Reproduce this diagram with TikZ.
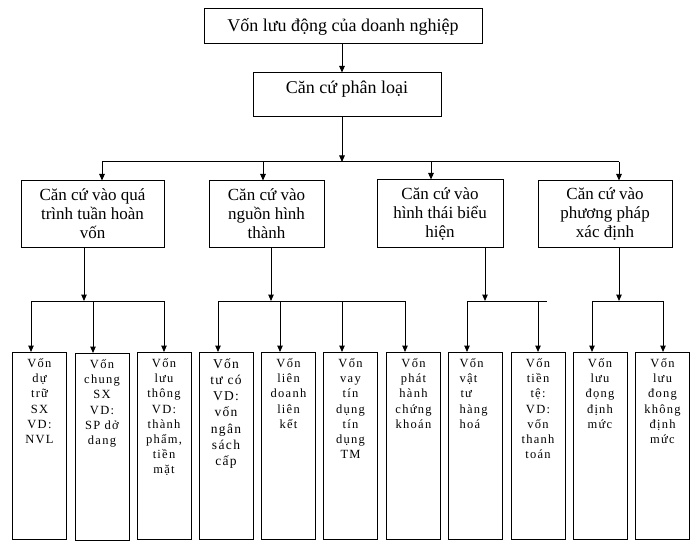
\documentclass[tikz,border=0pt]{standalone}
\usepackage{fontspec}
\setmainfont{Liberation Serif}
\newfontfamily\itemfont[LetterSpace=10]{Liberation Serif}
\usetikzlibrary{arrows.meta}
\newcommand{\vonbox}[2][\centering]{\parbox[t][181pt][t]{48pt}{\vspace*{3pt}\itemfont\fontsize{12.5}{15.2}\selectfont #1#2}}

\begin{document}
\begin{tikzpicture}[x=1pt, y=-1pt, >={Triangle[length=6.5pt,width=5.5pt]}, line width=1pt,
    mainbox/.style={draw, inner sep=0pt, font=\fontsize{18}{20}\selectfont},
    critbox/.style={draw, align=center, inner sep=0pt, font=\fontsize{17}{19}\selectfont},
    itembox/.style={draw, anchor=north, inner sep=3pt}]
    \useasboundingbox (0,0) rectangle (700,545);
    \node[mainbox, minimum width=278pt, minimum height=35pt] (von) at (343,26.5) {Vốn lưu động của doanh nghiệp};
    \node[mainbox, minimum width=188pt, minimum height=44pt, text height=12pt, text depth=15pt] (cancu) at (347,95) {Căn cứ phân loại};
    \draw[->] (von.south -| 342,0) -- (342,0 |- cancu.north);
    \coordinate (hub) at (342,162);
    \coordinate (jA) at (102,162);
    \coordinate (jB) at (263,162);
    \coordinate (jC) at (431,162);
    \coordinate (jD) at (619,162);
    \draw[->] (cancu.south -| hub) -- (hub);
    \draw (jA) -- (jD);

    \node[critbox, minimum width=143pt, minimum height=66pt] (quatrinh) at (92.5,214) {Căn cứ vào quá\\trình tuần hoàn\\vốn};
    \node[critbox, minimum width=115pt, minimum height=66pt] (nguon) at (266.5,214) {Căn cứ vào\\nguồn hình\\thành};
    \node[critbox, minimum width=126pt, minimum height=67pt] (hinhthai) at (440,213.5) {Căn cứ vào\\hình thái biểu\\hiện};
    \node[critbox, minimum width=134pt, minimum height=66pt] (phuongphap) at (605,214) {Căn cứ vào\\phương pháp\\xác định};
    \draw[->] (jA) -- (jA |- quatrinh.north);
    \draw[->] (jB) -- (jB |- nguon.north);
    \draw[->] (jC) -- (jC |- hinhthai.north);
    \draw[->] (jD) -- (jD |- phuongphap.north);

    \node[itembox] (dutru) at (39.5,352) {\vonbox{Vốn\\dự\\trữ\\SX\\VD:\\NVL}};
    \node[itembox] (sanxuat) at (102,353) {\vonbox{Vốn\\chung\\SX\\VD:\\SP dở\\dang}};
    \node[itembox] (luuthong) at (164,352) {\vonbox{Vốn\\lưu\\thông\\VD:\\thành\\phẩm,\\tiền\\mặt}};
    \node[itembox] (tuco) at (226,352) {\vonbox[\centering\fontsize{13.5}{16.2}\selectfont]{Vốn\\tư có\\VD:\\vốn\\ngân\\sách\\cấp}};
    \node[itembox] (liendoanh) at (288.5,352) {\vonbox{Vốn\\liên\\doanh\\liên\\kết}};
    \node[itembox] (vay) at (350.5,352) {\vonbox{Vốn\\vay\\tín\\dụng\\tín\\dụng\\TM}};
    \node[itembox] (phathanh) at (413.5,352) {\vonbox{Vốn\\phát\\hành\\chứng\\khoán}};
    \node[itembox] (vattu) at (475.5,352) {\vonbox[\raggedright\hspace*{8pt}]{Vốn\\\hspace*{8pt}vật\\\hspace*{9pt}tư\\\hspace*{8pt}hàng\\\hspace*{8pt}hoá}};
    \node[itembox] (tiente) at (538,352) {\vonbox{Vốn\\tiền\\tệ:\\VD:\\vốn\\thanh\\toán}};
    \node[itembox] (dinhmuc) at (600,352) {\vonbox{Vốn\\lưu\\đọng\\định\\mức}};
    \node[itembox] (khongdm) at (662.5,352) {\vonbox{Vốn\\lưu\\đong\\không\\định\\mức}};

    \coordinate (gA) at (84,301);
    \coordinate (gB) at (271,301);
    \coordinate (gC) at (485,301);
    \coordinate (gD) at (619,301);
    \draw[->] (quatrinh.south -| gA) -- (gA);
    \draw[->] (nguon.south -| gB) -- (gB);
    \draw[->] (hinhthai.south -| gC) -- (gC);
    \draw[->] (phuongphap.south -| gD) -- (gD);

    \coordinate (a1) at (31,301);
    \coordinate (a2) at (93,301);
    \coordinate (a3) at (164,301);
    \coordinate (b1) at (218,301);
    \coordinate (b2) at (280,301);
    \coordinate (b3) at (342,301);
    \coordinate (b4) at (405,301);
    \coordinate (c1) at (467,301);
    \coordinate (c2) at (538,301);
    \coordinate (c3) at (547,301);
    \coordinate (d1) at (592,301);
    \coordinate (d2) at (663,301);
    \draw (a1) -- (a3);
    \draw (b1) -- (b4);
    \draw (c1) -- (c3);
    \draw (d1) -- (d2);
    \draw[->] (a1) -- (a1 |- dutru.north);
    \draw[->] (a2) -- (a2 |- sanxuat.north);
    \draw[->] (a3) -- (a3 |- luuthong.north);
    \draw[->] (b1) -- (b1 |- tuco.north);
    \draw[->] (b2) -- (b2 |- liendoanh.north);
    \draw[->] (b3) -- (b3 |- vay.north);
    \draw[->] (b4) -- (b4 |- phathanh.north);
    \draw[->] (c1) -- (c1 |- vattu.north);
    \draw[->] (c2) -- (c2 |- tiente.north);
    \draw[->] (d1) -- (d1 |- dinhmuc.north);
    \draw[->] (d2) -- (d2 |- khongdm.north);
\end{tikzpicture}
\end{document}
